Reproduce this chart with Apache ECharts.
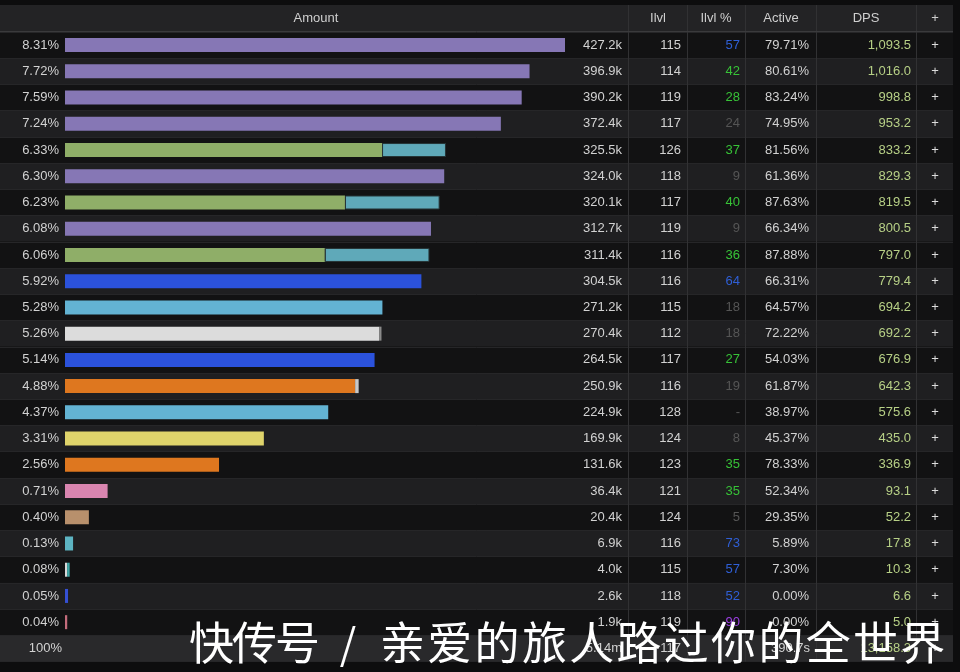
<!DOCTYPE html>
<html><head><meta charset="utf-8">
<script src="https://cdn.jsdelivr.net/npm/echarts@6/dist/echarts.min.js"></script>
<style>html,body{margin:0;padding:0;background:#0d0d0e;}#c{width:960px;height:672px;}</style>
</head><body><div id="c"></div>
<script>
// ---- data ----
const headerLabels = ['Amount', 'Ilvl', 'Ilvl %', 'Active', 'DPS', '+'];
const percentLabels = ['8.31%','7.72%','7.59%','7.24%','6.33%','6.30%','6.23%','6.08%','6.06%','5.92%','5.28%','5.26%','5.14%','4.88%','4.37%','3.31%','2.56%','0.71%','0.40%','0.13%','0.08%','0.05%','0.04%'];
const amounts = [427.2,396.9,390.2,372.4,325.5,324.0,320.1,312.7,311.4,304.5,271.2,270.4,264.5,250.9,224.9,169.9,131.6,36.4,20.4,6.9,4.0,2.6,1.9];
const amountLabels = ['427.2k','396.9k','390.2k','372.4k','325.5k','324.0k','320.1k','312.7k','311.4k','304.5k','271.2k','270.4k','264.5k','250.9k','224.9k','169.9k','131.6k','36.4k','20.4k','6.9k','4.0k','2.6k','1.9k'];
const barColors = ['#8677b5','#8677b5','#8677b5','#8677b5','#8fae68','#8677b5','#8fae68','#8677b5','#8fae68','#2b52dc','#63b3d3','#dcdcdc','#2b52dc','#de771f','#63b3d3','#dfd46b','#de771f','#d985b0','#b8906c','#5db4c2','#d8d8d8','#3550d4','#c46c7c'];
const secondAmounts = [0,0,0,0,54.6,0,80.9,0,89.4,0,0,2.0,0,3.0,0,0,0,0,0,0,2.2,0,0];
const secondColors = ['#5fa9b9','#5fa9b9','#5fa9b9','#5fa9b9','#5fa9b9','#5fa9b9','#5fa9b9','#5fa9b9','#5fa9b9','#5fa9b9','#5fa9b9','#8a8a8a','#5fa9b9','#c8c8c8','#5fa9b9','#5fa9b9','#5fa9b9','#5fa9b9','#5fa9b9','#5fa9b9','#3fa7a7','#5fa9b9','#5fa9b9'];
const ilvls = ['115','114','119','117','126','118','117','119','116','116','115','112','117','116','128','124','123','121','124','116','115','118','119'];
const ilvlPcts = ['57','42','28','24','37','9','40','9','36','64','18','18','27','19','-','8','35','35','5','73','57','52','90'];
const activeLabels = ['79.71%','80.61%','83.24%','74.95%','81.56%','61.36%','87.63%','66.34%','87.88%','66.31%','64.57%','72.22%','54.03%','61.87%','38.97%','45.37%','78.33%','52.34%','29.35%','5.89%','7.30%','0.00%','0.00%'];
const dpsLabels = ['1,093.5','1,016.0','998.8','953.2','833.2','829.3','819.5','800.5','797.0','779.4','694.2','692.2','676.9','642.3','575.6','435.0','336.9','93.1','52.2','17.8','10.3','6.6','5.0'];
const totalLabels = ['100%', '5.14m', '117', '', '390.7s', '13,158.3'];
const watermarkA = '快传号';
const watermarkSlash = '/';
const watermarkB = '亲爱的旅人路过你的全世界';

// ---- layout / style ----
const FONT = '"Liberation Sans", Arial, sans-serif';
const TOP = 32, ROW_H = 26.23, N = amounts.length + 1;
const TABLE_W = 953;
const colRight = { pct: 59, amt: 622, ilvl: 681, ipct: 740, act: 809, dps: 911, plus: 935 };
const sepX = [628.5, 687.5, 745.5, 816.5, 916.5];
const headerCenters = [316, 658, 716, 781, 866, 935];
const TXT = '#d2d2d2';
function parseColor(s) {
  if (s === '-') return '#555';
  const v = +s;
  if (v >= 95) return '#ff8000';
  if (v >= 75) return '#9b3fe0';
  if (v >= 50) return '#2f5fd6';
  if (v >= 25) return '#37c237';
  return '#555555';
}

const cats = percentLabels.map((_, i) => 'R' + (i + 1)).concat(['Total']);
const rowBg = cats.map((_, i) => i === N - 1 ? '#29292b' : (i % 2 === 0 ? '#121213' : '#1f1f21'));

const chart = echarts.init(document.getElementById('c'), null, { renderer: 'canvas' });

const mainData = amounts.map((v, i) => ({ value: +(v - secondAmounts[i]).toFixed(1), itemStyle: { color: barColors[i] } })).concat(['-']);
const secondData = secondAmounts.map((v, i) => ({
  value: v || '-',
  itemStyle: v > 10 ? { color: secondColors[i], borderColor: '#263436', borderWidth: 1 } : { color: secondColors[i] }
})).concat(['-']);

function txt(x, y, s, fill, align) {
  return { type: 'text', x: x, y: y, style: { text: s, fill: fill, align: align || 'right', verticalAlign: 'middle', font: '13px ' + FONT } };
}

const graphics = [
  { type: 'rect', shape: { x: 0, y: 5, width: TABLE_W, height: TOP - 5 }, style: { fill: '#232325' }, z: 0 },
];
headerLabels.forEach((h, i) => {
  graphics.push({ type: 'text', x: headerCenters[i], y: 18.5, style: { text: h, fill: '#cfcfcf', align: 'center', verticalAlign: 'middle', font: '13px ' + FONT }, z: 5 });
});
sepX.forEach(x => {
  graphics.push({ type: 'line', shape: { x1: x, y1: 5, x2: x, y2: TOP + N * ROW_H }, style: { stroke: '#313133', lineWidth: 1 }, z: 4 });
});
graphics.push({ type: 'line', shape: { x1: 0, y1: TOP - 0.5, x2: TABLE_W, y2: TOP - 0.5 }, style: { stroke: '#3a3a3c', lineWidth: 1 }, z: 4 });
// watermark (caption overlay)
const WM_FONT = '45px "Noto Sans CJK SC"';
Array.from(watermarkA).forEach((c, k) => {
  graphics.push({ type: 'text', x: 189 + k * 43, y: 643, style: { text: c, fill: '#ffffff', align: 'left', verticalAlign: 'middle', font: WM_FONT }, z: 100 });
});
graphics.push({ type: 'text', x: 348, y: 643, style: { text: watermarkSlash, fill: '#ffffff', align: 'center', verticalAlign: 'middle', font: '42px "Noto Sans CJK SC"' }, z: 100 });
Array.from(watermarkB).forEach((c, k) => {
  graphics.push({ type: 'text', x: 380 + k * 47.3, y: 643, style: { text: c, fill: '#ffffff', align: 'left', verticalAlign: 'middle', font: WM_FONT }, z: 100 });
});

const option = {
  backgroundColor: '#0d0d0e',
  animation: false,
  grid: [
    { left: 0, width: TABLE_W, top: TOP, height: N * ROW_H },
    { left: 65, width: 500, top: TOP, height: N * ROW_H }
  ],
  xAxis: [
    { gridIndex: 0, type: 'value', min: 0, max: TABLE_W, show: false },
    { gridIndex: 1, type: 'value', min: 0, max: Math.max(...amounts), show: false }
  ],
  yAxis: [
    { gridIndex: 0, type: 'category', data: cats, inverse: true,
      axisLine: { show: false }, axisTick: { show: false }, axisLabel: { show: false },
      splitArea: { show: true, areaStyle: { color: rowBg } },
      splitLine: { show: true, lineStyle: { color: '#262628', width: 1 } } },
    { gridIndex: 1, type: 'category', data: cats, inverse: true, show: false }
  ],
  series: [
    { type: 'bar', xAxisIndex: 1, yAxisIndex: 1, stack: 'amt', barWidth: 14, data: mainData, silent: true, z: 3 },
    { type: 'bar', xAxisIndex: 1, yAxisIndex: 1, stack: 'amt', barWidth: 14, data: secondData, silent: true, z: 3 },
    { type: 'custom', xAxisIndex: 0, yAxisIndex: 0, silent: true, clip: false, z: 6,
      data: cats.map((_, i) => [0, i]),
      renderItem: function (params, api) {
        const i = params.dataIndex;
        const y = api.coord([0, i])[1];
        let ch;
        if (i < amounts.length) {
          ch = [
            txt(colRight.pct, y, percentLabels[i], TXT),
            txt(colRight.amt, y, amountLabels[i], TXT),
            txt(colRight.ilvl, y, ilvls[i], TXT),
            txt(colRight.ipct, y, ilvlPcts[i], parseColor(ilvlPcts[i])),
            txt(colRight.act, y, activeLabels[i], TXT),
            txt(colRight.dps, y, dpsLabels[i], '#b7d086'),
            txt(colRight.plus, y, '+', '#dddddd', 'center')
          ];
        } else {
          ch = [
            txt(62, y, totalLabels[0], TXT),
            txt(colRight.amt, y, totalLabels[1], TXT),
            txt(colRight.ilvl, y, totalLabels[2], TXT),
            txt(colRight.ipct, y, totalLabels[3], TXT),
            txt(colRight.act + 1, y, totalLabels[4], TXT),
            txt(colRight.dps, y, totalLabels[5], '#b7d086'),
            txt(colRight.plus, y, '+', '#dddddd', 'center')
          ];
        }
        return { type: 'group', children: ch };
      }
    }
  ],
  graphic: graphics
};
chart.setOption(option);
</script></body></html>
